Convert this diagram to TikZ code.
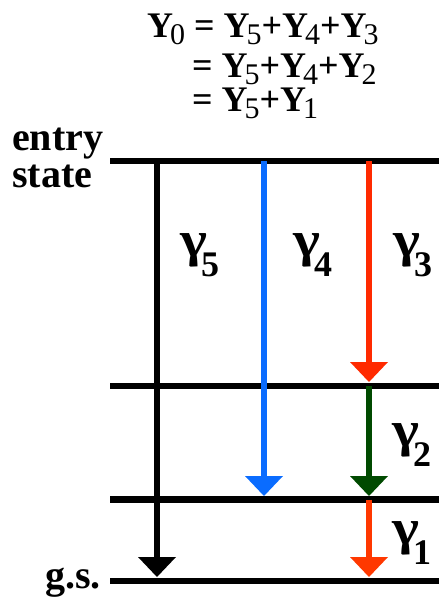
\documentclass[tikz,border=0pt]{standalone}
\usepackage{fontspec}
\usepackage{graphicx}
\setmainfont{Liberation Serif}
\usetikzlibrary{arrows.meta}
\definecolor{GammaBlue}{HTML}{0A6CFF}
\definecolor{GammaRed}{HTML}{FF2A00}
\definecolor{GammaGreen}{HTML}{004A00}
\definecolor{GammaOrange}{HTML}{FF3800}
\newcommand{\Yb}[1]{Y\kern-3pt\raisebox{-7pt}{\fontsize{30}{30}\fontspec{Liberation Serif} #1}}
\newcommand{\gam}[1]{\scalebox{1.15}[1]{\fontsize{50}{50}\selectfont γ}\kern-6pt\raisebox{-20pt}{\fontsize{36}{36}\selectfont #1}}

\begin{document}
\begin{tikzpicture}[
      x=1pt, y=-1pt,
      level/.style={line width=6.5pt},
      ray/.style={line width=6.5pt, -{Triangle[width=38pt, length=20pt, line width=0pt]}},
      eqline/.style={anchor=base west, inner sep=0pt, font=\fontsize{36}{36}\fontspec{Liberation Serif Bold}},
      lvllabel/.style={anchor=base west, inner sep=0pt, font=\fontsize{40}{40}\fontspec{Liberation Serif Bold}},
      glabel/.style={anchor=base west, inner sep=0pt, font=\fontspec{Liberation Serif Bold}}
  ]
    \useasboundingbox (0,0) rectangle (439,598);
    \node[eqline](eq1) at (147,37){\Yb{0} = \Yb{5}+\Yb{4}+\Yb{3}};
    \node[eqline](eq2) at (192,77){= \Yb{5}+\Yb{4}+\Yb{2}};
    \node[eqline](eq3) at (192,111){= \Yb{5}+\Yb{1}};
    \node[lvllabel](entry) at (12,150){entry};
    \node[lvllabel](state) at (12,187){state};
    \node[lvllabel](gs) at (45,588){g.s.};
    \draw[level] (110,161) -- (439,161);
    \draw[level] (110,386) -- (439,386);
    \draw[level] (110,499.5) -- (439,499.5);
    \draw[level] (110,581) -- (439,581);
    \coordinate (e5) at (157,161);
    \coordinate (g5) at (157,577);
    \coordinate (e4) at (264,161);
    \coordinate (l4) at (264,496);
    \coordinate (e3) at (369,161);
    \coordinate (m3) at (369,382);
    \coordinate (m2) at (369,386);
    \coordinate (l2) at (369,496);
    \coordinate (l1) at (369,499.5);
    \coordinate (g1) at (369,577);
    \draw[ray] (e5) -- (g5);
    \draw[ray, GammaBlue] (e4) -- (l4);
    \draw[ray, GammaRed] (e3) -- (m3);
    \draw[ray, GammaGreen] (m2) -- (l2);
    \draw[ray, GammaOrange] (l1) -- (g1);
    \node[glabel](g5lab) at (180,256){\gam{5}};
    \node[glabel](g4lab) at (293,256){\gam{4}};
    \node[glabel](g3lab) at (393,256){\gam{3}};
    \node[glabel](g2lab) at (392,446){\gam{2}};
    \node[glabel](g1lab) at (392,544){\gam{1}};
\end{tikzpicture}
\end{document}
